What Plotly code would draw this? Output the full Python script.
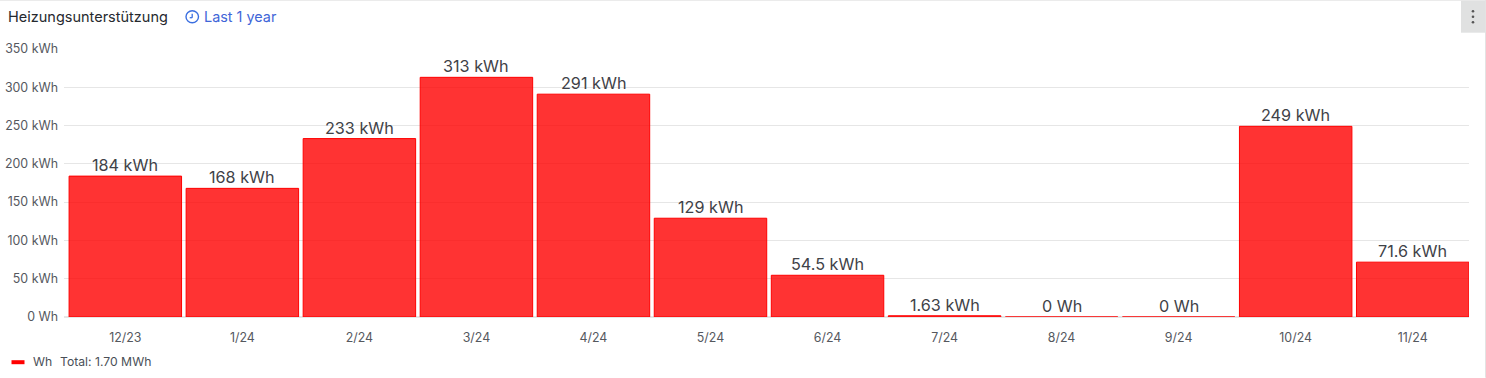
import plotly.graph_objects as go

months = ["12/23", "1/24", "2/24", "3/24", "4/24", "5/24", "6/24", "7/24", "8/24", "9/24", "10/24", "11/24"]
values_kwh = [184, 168, 233, 313, 291, 129, 54.5, 1.63, 0, 0, 249, 71.6]
value_labels = ["184 kWh", "168 kWh", "233 kWh", "313 kWh", "291 kWh", "129 kWh", "54.5 kWh",
                "1.63 kWh", "0 Wh", "0 Wh", "249 kWh", "71.6 kWh"]
y_ticks = [0, 50, 100, 150, 200, 250, 300, 350]
y_tick_labels = ["0 Wh", "50 kWh", "100 kWh", "150 kWh", "200 kWh", "250 kWh", "300 kWh", "350 kWh"]

W, H = 1486, 378
L, R, T, B = 64, 17, 49.3, 60.7
FONT = "Inter, Noto Sans, sans-serif"


def px(x):
    return (x - L) / (W - L - R)


def py(y):
    return 1 - (y - T) / (H - T - B)


fig = go.Figure(go.Bar(
    x=months,
    y=values_kwh,
    marker=dict(color="rgba(255,0,0,0.8)", line=dict(color="#ff0000", width=1)),
    hoverinfo="skip",
))

shapes = [
    dict(type="line", xref="paper", yref="paper", x0=px(0), x1=px(W), y0=py(0.5), y1=py(0.5),
         line=dict(color="#e3e3e3", width=1)),
    dict(type="line", xref="paper", yref="paper", x0=px(W - 0.5), x1=px(W - 0.5), y0=py(0), y1=py(H),
         line=dict(color="#e3e3e3", width=1)),
    dict(type="rect", xref="paper", yref="paper", x0=px(1461), x1=px(1485), y0=py(1), y1=py(33),
         fillcolor="#e0e1e1", line=dict(width=0)),
    dict(type="circle", xref="paper", yref="paper", x0=px(186), x1=px(198.5), y0=py(11), y1=py(23),
         line=dict(color="#3b6fe0", width=1.4)),
    dict(type="line", xref="paper", yref="paper", x0=px(192.2), x1=px(192.2), y0=py(14), y1=py(18),
         line=dict(color="#3b6fe0", width=1.3)),
    dict(type="line", xref="paper", yref="paper", x0=px(192.2), x1=px(189.7), y0=py(18), y1=py(18),
         line=dict(color="#3b6fe0", width=1.3)),
    dict(type="line", xref="paper", yref="paper", x0=px(11.5), x1=px(24.5), y0=py(362.5), y1=py(362.5),
         line=dict(color="#ff0000", width=4)),
]
for dot_y in (11.5, 17, 22.5):
    shapes.append(dict(type="circle", xref="paper", yref="paper", x0=px(1471.7), x1=px(1474.3),
                       y0=py(dot_y - 1.3), y1=py(dot_y + 1.3), fillcolor="#555555", line=dict(width=0)))


def note(x, y, text, size, color, anchor="left"):
    return dict(xref="paper", yref="paper", x=px(x), y=py(y), text=text, showarrow=False,
                xanchor=anchor, yanchor="middle", align="left",
                font=dict(family=FONT, size=size, color=color))


annotations = [
    note(5.5, 17, "Heizungsunterstützung", 14.5, "#26292e"),
    note(202, 17, "Last 1 year", 14.4, "#3f66d8"),
    note(31, 362, "Wh", 12.2, "#4a4f57"),
    note(58, 362, "Total: 1.70 MWh", 12.2, "#4a4f57"),
]
for month, value, label in zip(months, values_kwh, value_labels):
    annotations.append(dict(xref="x", yref="y", x=month, y=value, text=label, showarrow=False,
                            xanchor="center", yanchor="bottom", yshift=-1,
                            font=dict(family=FONT, size=16.2, color="#3f4248")))

fig.update_layout(
    width=W, height=H, autosize=False,
    margin=dict(l=L, r=R, t=T, b=B, pad=0, autoexpand=False),
    paper_bgcolor="white", plot_bgcolor="white",
    showlegend=False, bargap=0.039,
    font=dict(family=FONT),
    shapes=shapes, annotations=annotations,
    xaxis=dict(type="category", range=[-0.524, 11.481], showgrid=False, zeroline=False, showline=False,
               ticks="", tickfont=dict(family=FONT, size=12.4, color="#55585e"), ticklabelstandoff=12),
    yaxis=dict(range=[0, 350], tickvals=y_ticks, ticktext=y_tick_labels, showgrid=True,
               gridcolor="#e6e6e6", gridwidth=1, zeroline=True, zerolinecolor="#e6e6e6",
               ticks="", showline=False, tickfont=dict(family=FONT, size=12.4, color="#55585e"),
               ticklabelstandoff=5),
)

fig.write_html("out.html", config={"displayModeBar": False},
               post_script="document.body.style.margin='0';document.body.style.overflow='hidden';")
